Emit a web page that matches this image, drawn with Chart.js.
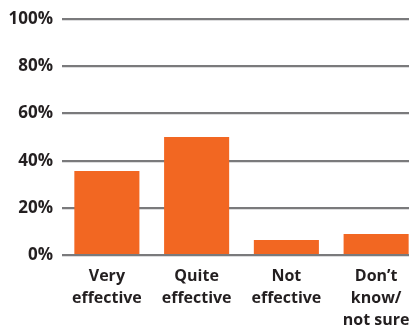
<!DOCTYPE html>
<html>
<head>
<meta charset="utf-8">
<script src="https://cdn.jsdelivr.net/npm/chart.js@4"></script>
<style>
  html, body { margin: 0; padding: 0; background: #fff; overflow: hidden; }
  #wrap { position: relative; width: 421px; height: 327px; }
</style>
</head>
<body>
<div id="wrap"><canvas id="chart"></canvas></div>
<script>
// Chart data
const categories = [
  ["Very", "effective"],
  ["Quite", "effective"],
  ["Not", "effective"],
  ["Don\u2019t", "know/", "not sure"]
];
const shares = [35.6, 50, 6.4, 8.9];
const yTicks = [0, 20, 40, 60, 80, 100];

const textColor = "#231f20";
const ctx = document.getElementById("chart").getContext("2d");

new Chart(ctx, {
  type: "bar",
  data: {
    labels: categories,
    datasets: [
      {
        data: shares,
        backgroundColor: "#f26722",
        borderWidth: 0,
        barPercentage: 0.725,
        categoryPercentage: 1,
      },
    ],
  },
  options: {
    responsive: true,
    maintainAspectRatio: false,
    animation: false,
    layout: { padding: { top: 18, right: 0, bottom: 0, left: 0 } },
    plugins: { legend: { display: false }, tooltip: { enabled: false } },
    scales: {
      x: {
        grid: { display: false },
        border: { display: false },
        ticks: {
          color: textColor,
          font: { family: "'Open Sans', 'DejaVu Sans', sans-serif", weight: "700", size: 16, lineHeight: 1.35 },
          padding: 3,
          maxRotation: 0,
          autoSkip: false,
        },
        afterFit: (scale) => { scale.height = 72; },
      },
      y: {
        min: 0,
        max: 100,
        afterBuildTicks: (scale) => {
          scale.ticks = yTicks.map((v) => ({ value: v }));
        },
        grid: { color: "#7a7a7c", lineWidth: 2.2, drawTicks: false },
        border: { display: false },
        ticks: {
          color: textColor,
          font: { family: "'Open Sans', 'DejaVu Sans', sans-serif", weight: "700", size: 17 },
          padding: 9,
          callback: (v) => v + "%",
        },
        afterFit: (scale) => { scale.width = 62; },
      },
    },
  },
});
</script>
</body>
</html>
